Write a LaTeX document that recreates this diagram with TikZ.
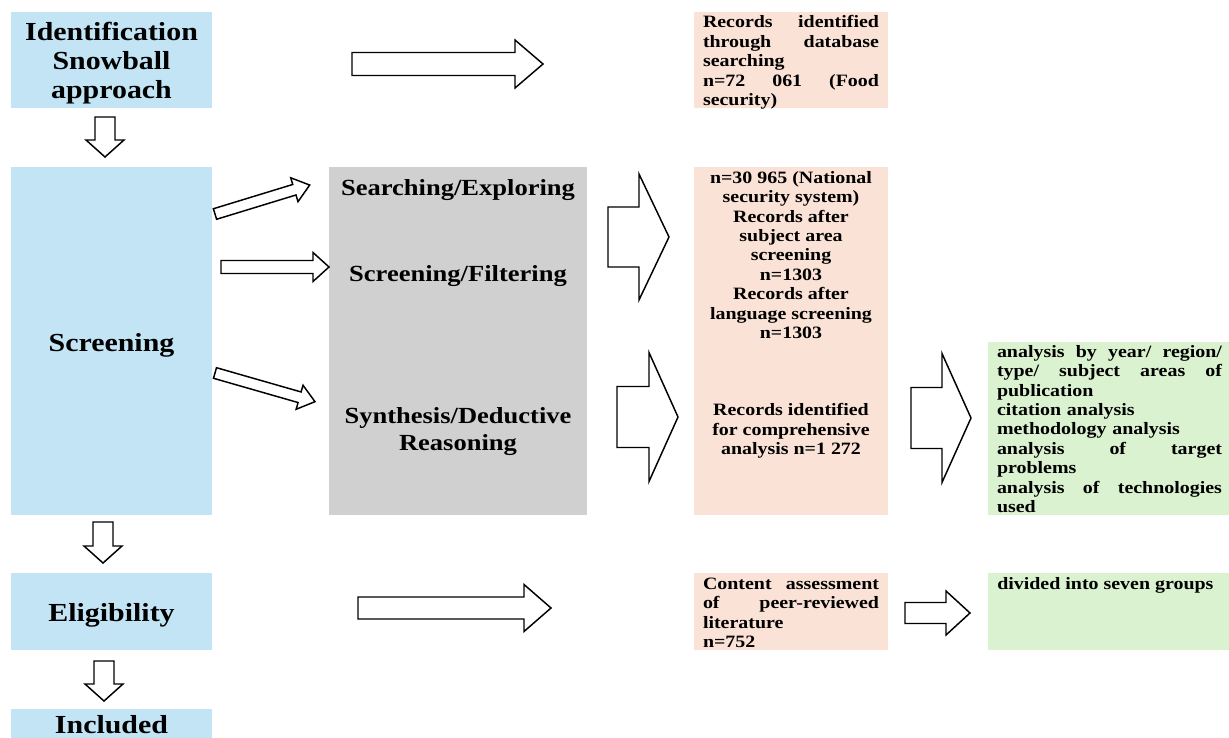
\documentclass[tikz,border=0pt]{standalone}
\usepackage{fontspec}
\setmainfont{Liberation Serif}[FakeStretch=1.15]
\usetikzlibrary{positioning}

\definecolor{stageblue}{RGB}{194,228,244}
\definecolor{methodgray}{RGB}{208,208,208}
\definecolor{recpeach}{RGB}{251,226,214}
\definecolor{resgreen}{RGB}{218,242,208}

\newcommand{\pxu}{0.75pt}
% justified line of a fixed width
\newcommand{\jline}[2][132pt]{\makebox[#1][s]{#2}}

\tikzset{
  panel/.style={rectangle, inner sep=0pt, draw=none},
  boxsize/.style 2 args={minimum width=#1*\pxu, minimum height=#2*\pxu},
  stage/.style={panel, fill=stageblue},
  method/.style={panel, fill=methodgray},
  record/.style={panel, fill=recpeach},
  result/.style={panel, fill=resgreen},
  stagetext/.style={font=\fontsize{19.5}{21.75}\selectfont\bfseries, align=center, inner sep=0pt},
  methodtext/.style={font=\fontsize{17.3}{20.25}\selectfont\bfseries, align=center, inner sep=0pt},
  smalltext/.style={font=\fontsize{13}{14.55}\selectfont\bfseries, inner sep=0pt},
  arrowline/.style={draw=black, fill=white, line width=1.1pt},
  pics/blockarrow/.style args={#1/#2/#3/#4}{code={
    \draw[arrowline] (0,-#2) -- (#1-#4,-#2) -- (#1-#4,-#3) -- (#1,0)
      -- (#1-#4,#3) -- (#1-#4,#2) -- (0,#2) -- cycle;}},
}

\begin{document}
\begin{tikzpicture}[x=0.75pt,y=-0.75pt]
    \useasboundingbox (0,0) rectangle (1229,738);

    % stages on the left
    \node[stage, boxsize={201}{96}] (ident) at (111.5,60) {};
    \node[stage, boxsize={201}{348}] (screen) at (111.5,341) {};
    \node[stage, boxsize={201}{77}] (elig) at (111.5,611.5) {};
    \node[stage, boxsize={201}{29}] (incl) at (111.5,723.5) {};

    \node[stagetext] (identlbl) at (111.5,63) {Identification\\Snowball\\approach};
    \node[stagetext] (screenlbl) at (111.5,345) {Screening};
    \node[stagetext] (eliglbl) at (111.5,615) {Eligibility};
    \node[stagetext] (incllbl) at (111.5,725) {Included};

    % methods
    \node[method, boxsize={258}{348}] (methods) at (458,341) {};
    \node[methodtext] (search) at (458,190) {Searching/Exploring};
    \node[methodtext] (filter) at (458,276) {Screening/Filtering};
    \node[methodtext] (synth) at (458,432) {Synthesis/Deductive\\Reasoning};

    % records
    \node[record, boxsize={194}{96}] (rec1) at (791,60) {};
    \node[record, boxsize={194}{348}] (rec2) at (791,341) {};
    \node[record, boxsize={194}{77}] (rec3) at (791,611.5) {};

    \node[smalltext, text width=132pt, align=left] (rec1txt) at (791,62.5)
        {\jline{Records\hfill identified}\\\jline{through\hfill database}\\searching\\\jline{n=72\hfill 061\hfill (Food}\\security)};
    \node[smalltext, align=center] (rec2top) at (791,255)
        {n=30 965 (National\\security system)\\Records after\\subject area\\screening\\n=1303\\Records after\\language screening\\n=1303};
    \node[smalltext, align=center] (rec2bot) at (791,431)
        {Records identified\\for comprehensive\\analysis n=1 272};
    \node[smalltext, text width=132pt, align=left] (rec3txt) at (791,613)
        {\jline{Content\hfill assessment}\\\jline{of\hfill peer-reviewed}\\literature\\n=752};

    % results
    \node[result, boxsize={241}{173}] (res1) at (1108.5,428.5) {};
    \node[result, boxsize={241}{77}] (res2) at (1108.5,611.5) {};

    \node[smalltext, text width=168.75pt, align=left] (res1txt) at (1109.5,429)
        {\jline[168.75pt]{analysis\hfill by\hfill year/\hfill region/}\\
         \jline[168.75pt]{type/\hfill subject\hfill areas\hfill of}\\publication\\citation analysis\\methodology analysis\\
         \jline[168.75pt]{analysis\hfill of\hfill target}\\problems\\
         \jline[168.75pt]{analysis\hfill of\hfill technologies}\\used};
    \node[smalltext, anchor=west] (res2txt) at (997,585) {divided into seven groups};

    % block arrows
    \pic[rotate=-90] (down1) at (105,117) {blockarrow={40/10/19/17}};
    \pic[rotate=-90] (down2) at (103,522) {blockarrow={41/10/19/17}};
    \pic[rotate=-90] (down3) at (104,661) {blockarrow={40/10/19/17}};
    \pic (toprec) at (352,64) {blockarrow={191/11.5/24/28}};
    \pic (eligrec) at (358,608) {blockarrow={193/11/23.5/27}};
    \pic[rotate=17] (tosearch) at (215,214) {blockarrow={99/5.5/12.5/16}};
    \pic (tofilter) at (221,267) {blockarrow={108/6.5/14.5/16}};
    \pic[rotate=-16] (tosynth) at (215,373) {blockarrow={104/5.5/12.5/16}};
    \pic (fat1) at (608,237) {blockarrow={61/30/63/30}};
    \pic (fat2) at (617,417) {blockarrow={61/30.5/64.5/29}};
    \pic (fat3) at (911,418) {blockarrow={60/30.5/64.5/29}};
    \pic (togroups) at (905,613) {blockarrow={65/10.5/22/24}};
\end{tikzpicture}
\end{document}
